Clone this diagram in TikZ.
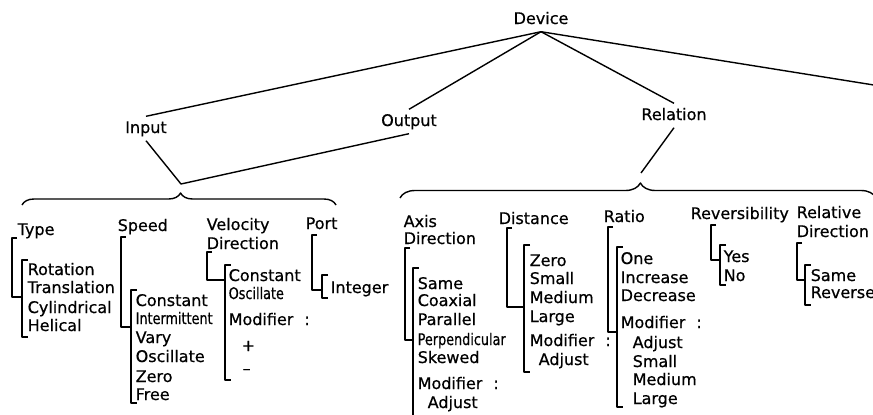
\documentclass[tikz,border=0pt]{standalone}
\usepackage{fontspec}
\setmainfont{DejaVu Sans}[FakeBold=0.6]
\usetikzlibrary{decorations.pathreplacing}
% outer bracket (x, top, join) into inner bracket (x, top, bottom)
\newcommand{\twobrk}[6]{%
  \draw (#1+5,#2) -- (#1,#2) -- (#1,#3) -- (#4,#3);
  \draw (#4+6,#5) -- (#4,#5) -- (#4,#6) -- (#4+6,#6);
}
\newcommand{\narrow}[1]{\scalebox{0.8}[1]{#1}}
\tikzset{
  tnode/.style={ anchor=base, inner sep=4pt, text height=12pt, text depth=3pt,
    font=\fontsize{16}{19}\selectfont }
}
\tikzset{
  item/.style={ anchor=base west, inner sep=0pt, font=\fontsize{16}{19}\selectfont }
}
\tikzset{
  curly/.style={ decorate, decoration={brace, amplitude=#1, aspect=0.505} }
}

\begin{document}
\begin{tikzpicture}[x=1pt, y=-1pt, line width=1.4pt, line join=round]
      \useasboundingbox (0,0) rectangle (873,415);
      \clip (0,0) rectangle (873,415);

      % tree
      \node[tnode] (dev) at (541, 24) {Device};
      \node[tnode] (inp) at (146, 133) {Input};
      \node[tnode] (out) at (409, 126) {Output};
      \node[tnode] (rel) at (674, 120) {Relation};
      \coordinate (io) at (181, 184);
      \coordinate (relj) at (641, 173);
      \coordinate (far) at (880, 86);

      \draw (dev.south) -- (inp.north);
      \draw (dev.south) -- (out.north);
      \draw (dev.south) -- (rel.north);
      \draw (dev.south) -- (far);
      \draw (inp.south) -- (io) -- (out.south);
      \draw (rel.south) -- (relj);

      \draw[curly=12pt] (22, 205) -- (336, 205);
      \draw[curly=15pt] (400, 198) -- (876, 198);

      % input / output attributes
      \node[item] (type) at (17, 235) {Type};
      \node[item] (rot) at (27, 275) {Rotation};
      \node[item] (trans) at (27, 293) {Translation};
      \node[item] (cyl) at (27, 313) {Cylindrical};
      \node[item] (hel) at (27, 331) {Helical};
      \twobrk{12}{238}{297}{22}{260}{337}

      \node[item] (speed) at (117, 231) {Speed};
      \node[item] (sconst) at (135, 306) {Constant};
      \node[item] (sinter) at (135, 324) {\narrow{Intermittent}};
      \node[item] (svary) at (135, 343) {Vary};
      \node[item] (sosc) at (135, 362) {Oscillate};
      \node[item] (szero) at (135, 382) {Zero};
      \node[item] (sfree) at (135, 400) {Free};
      \twobrk{121}{237}{327}{131}{290}{403}

      \node[item] (velo) at (206, 230) {Velocity};
      \node[item] (velodir) at (206, 249) {Direction};
      \node[item] (vconst) at (228, 281) {Constant};
      \node[item] (vosc) at (228, 299) {\narrow{Oscillate}};
      \node[item] (vmod) at (228, 325) {Modifier\hspace{11pt}:};
      \node[item] (vplus) at (241, 351) {+};
      \node[item] (vminus) at (242, 374) {–};
      \twobrk{207}{252}{280}{225}{265}{380}

      \node[item] (port) at (305, 229) {Port};
      \node[item] (pint) at (330, 293) {Integer};
      \twobrk{312}{235}{290}{322}{275}{298}

      % relation attributes
      \node[item] (axis) at (403, 227) {Axis};
      \node[item] (axisdir) at (403, 244) {Direction};
      \node[item] (asame) at (417, 289) {Same};
      \node[item] (acoax) at (417, 306) {Coaxial};
      \node[item] (apar) at (417, 325) {Parallel};
      \node[item] (aperp) at (417, 345) {\narrow{Perpendicular}};
      \node[item] (askew) at (417, 363) {Skewed};
      \node[item] (amod) at (417, 389) {Modifier\hspace{11pt}:};
      \node[item] (aadj) at (427, 408) {Adjust};
      \twobrk{405}{248}{340}{413}{268}{420}

      \node[item] (dist) at (498, 224) {Distance};
      \node[item] (dzero) at (529, 266) {Zero};
      \node[item] (dsmall) at (529, 284) {Small};
      \node[item] (dmed) at (529, 303) {Medium};
      \node[item] (dlarge) at (529, 322) {Large};
      \node[item] (dmod) at (529, 346) {Modifier\hspace{11pt}:};
      \node[item] (dadj) at (538, 365) {Adjust};
      \twobrk{507}{228}{307}{524}{245}{372}

      \node[item] (ratio) at (603, 222) {Ratio};
      \node[item] (rone) at (620, 264) {One};
      \node[item] (rinc) at (620, 283) {Increase};
      \node[item] (rdec) at (620, 301) {Decrease};
      \node[item] (rmod) at (620, 328) {Modifier\hspace{11pt}:};
      \node[item] (radj) at (632, 348) {Adjust};
      \node[item] (rsmall) at (632, 367) {Small};
      \node[item] (rmed) at (632, 385) {Medium};
      \node[item] (rlarge) at (632, 404) {Large};
      \twobrk{608}{227}{332}{617}{247}{407}

      \node[item] (rev) at (690, 219) {Reversibility};
      \node[item] (ryes) at (723, 262) {Yes};
      \node[item] (rno) at (723, 281) {No};
      \twobrk{711}{225}{260}{720}{245}{285}

      \node[item] (reld) at (796, 218) {Relative};
      \node[item] (relddir) at (796, 237) {Direction};
      \node[item] (rdsame) at (810, 281) {Same};
      \node[item] (rdrev) at (810, 298) {Reverse};
      \twobrk{797}{243}{280}{805}{265}{305}
    \end{tikzpicture}
\end{document}
